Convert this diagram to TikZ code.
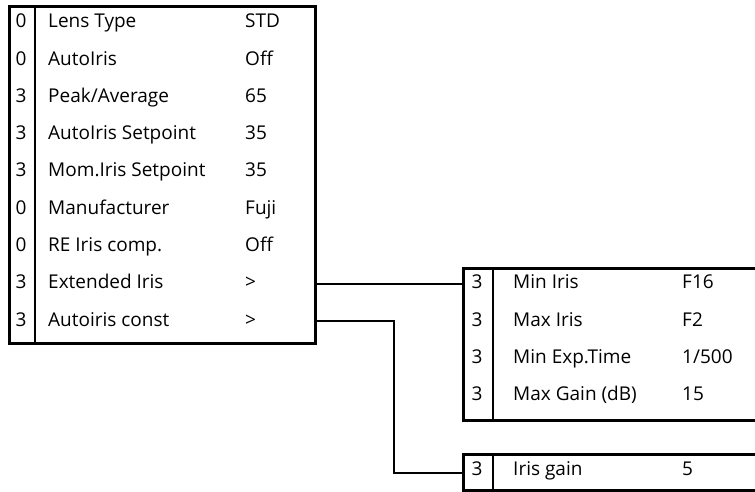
\documentclass[tikz,border=0pt]{standalone}
\usepackage{fontspec}
\setmainfont{Open Sans}
\usetikzlibrary{positioning,calc}

\begin{document}
\begin{tikzpicture}[
  x=1pt, y=-1pt,
  font=\fontsize{19}{22}\selectfont,
  menu/.style={draw, line width=3.2pt, inner sep=0pt, anchor=north west},
  sep/.style={line width=2pt},
  wire/.style={line width=2pt},
  txt/.style={inner sep=0pt, text height=13.5pt, text depth=4pt},
  lvl/.style={txt, anchor=center},
  lbl/.style={txt, anchor=west},
  val/.style={txt, anchor=west},
]
\useasboundingbox (0,0) rectangle (755,491);
\clip (0,0) rectangle (755,491);

% main menu
\node[menu, minimum width=306pt, minimum height=337pt] (mainbox) at (8,5) {};
\draw[sep] ([xshift=27pt]mainbox.north west) -- ([xshift=27pt]mainbox.south west);

\node[lvl] (l1) at (21,23)    {0}; \node[lbl] (lens) at (48,23)    {Lens Type};          \node[val] (v1) at (245,23)    {STD};
\node[lvl] (l2) at (21,60.3)  {0}; \node[lbl] (auto) at (48,60.3)  {AutoIris};           \node[val] (v2) at (245,60.3)  {Off};
\node[lvl] (l3) at (21,97.6)  {3}; \node[lbl] (peak) at (48,97.6)  {Peak/Average};       \node[val] (v3) at (245,97.6)  {65};
\node[lvl] (l4) at (21,134.9) {3}; \node[lbl] (aset) at (48,134.9) {AutoIris Setpoint};  \node[val] (v4) at (245,134.9) {35};
\node[lvl] (l5) at (21,172.2) {3}; \node[lbl] (mset) at (48,172.2) {Mom.Iris Setpoint};  \node[val] (v5) at (245,172.2) {35};
\node[lvl] (l6) at (21,209.5) {0}; \node[lbl] (manu) at (48,209.5) {Manufacturer};       \node[val] (v6) at (245,209.5) {Fuji};
\node[lvl] (l7) at (21,246.8) {0}; \node[lbl] (reic) at (48,246.8) {RE Iris comp.};      \node[val] (v7) at (245,246.8) {Off};
\node[lvl] (l8) at (21,284.1) {3}; \node[lbl] (ext)  at (48,284.1) {Extended Iris};      \node[val] (v8) at (245,284.1) {>};
\node[lvl] (l9) at (21,321.4) {3}; \node[lbl] (cnst) at (48,321.4) {Autoiris const};     \node[val] (v9) at (245,321.4) {>};

% extended iris submenu
\node[menu, minimum width=320pt, minimum height=152pt] (extbox) at (462,267) {};
\draw[sep] ([xshift=31pt]extbox.north west) -- ([xshift=31pt]extbox.south west);

\node[lvl] (e1) at (477,284.1) {3}; \node[lbl] (mini) at (513,284.1) {Min Iris};       \node[val] (w1) at (682,284.1) {F16};
\node[lvl] (e2) at (477,321.4) {3}; \node[lbl] (maxi) at (513,321.4) {Max Iris};       \node[val] (w2) at (682,321.4) {F2};
\node[lvl] (e3) at (477,358.7) {3}; \node[lbl] (mexp) at (513,358.7) {Min Exp.Time};   \node[val] (w3) at (682,358.7) {1/500};
\node[lvl] (e4) at (477,396)   {3}; \node[lbl] (mgai) at (513,396)   {Max Gain (dB)};  \node[val] (w4) at (682,396)   {15};

% autoiris const submenu
\node[menu, minimum width=320pt, minimum height=36pt] (gainbox) at (462,453) {};
\draw[sep] ([xshift=31pt]gainbox.north west) -- ([xshift=31pt]gainbox.south west);

\node[lvl] (g1) at (477,471) {3}; \node[lbl] (igai) at (513,471) {Iris gain}; \node[val] (x1) at (682,471) {5};

% links
\coordinate (extout) at (mainbox.east |- ext);
\coordinate (cnstout) at (mainbox.east |- cnst);
\draw[wire] (extout) -- (extbox.west |- mini);
\draw[wire] (cnstout) -- ++(77,0) |- (gainbox.west);

\end{tikzpicture}
\end{document}
